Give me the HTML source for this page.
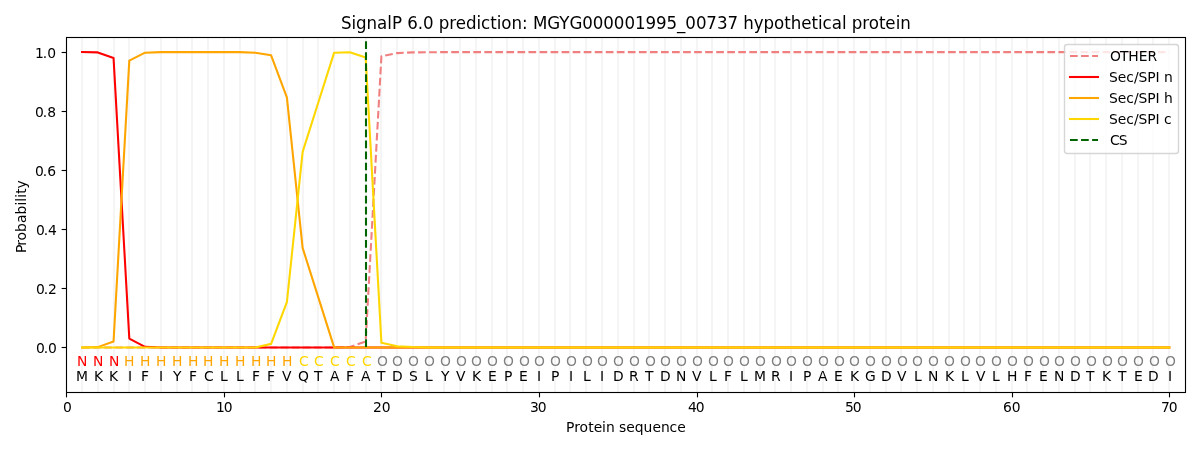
<!DOCTYPE html>
<html lang="en">
<head>
<meta charset="utf-8">
<title>SignalP 6.0 prediction</title>
<style>
html,body{margin:0;padding:0;background:#ffffff;}
body{width:1200px;height:450px;overflow:hidden;}
svg{display:block;}
svg text{font-family:"DejaVu Sans","Liberation Sans",sans-serif;font-size:13.889px;fill:#000000;}
.g{stroke:#f5f5f5;stroke-width:2.083;}
.k{stroke:#000000;stroke-width:1.111;fill:none;}
.d{fill:none;stroke-width:2.083;stroke-linejoin:round;}
.cff0000{fill:#ff0000;}
.cffa500{fill:#ffa500;}
.cffd700{fill:#ffd700;}
.c808080{fill:#808080;}
.big{font-size:16.667px;}
</style>
</head>
<body>
<svg width="1200" height="450" viewBox="0 0 1200 450">
<defs><clipPath id="ax"><rect x="66" y="37" width="1119" height="355"/></clipPath></defs>
<rect x="0" y="0" width="1200" height="450" fill="#ffffff"/>
<g clip-path="url(#ax)">
<g class="g">
<line x1="82" y1="37" x2="82" y2="393"/>
<line x1="98" y1="37" x2="98" y2="393"/>
<line x1="114" y1="37" x2="114" y2="393"/>
<line x1="129" y1="37" x2="129" y2="393"/>
<line x1="145" y1="37" x2="145" y2="393"/>
<line x1="161" y1="37" x2="161" y2="393"/>
<line x1="177" y1="37" x2="177" y2="393"/>
<line x1="192" y1="37" x2="192" y2="393"/>
<line x1="208" y1="37" x2="208" y2="393"/>
<line x1="224" y1="37" x2="224" y2="393"/>
<line x1="240" y1="37" x2="240" y2="393"/>
<line x1="255" y1="37" x2="255" y2="393"/>
<line x1="271" y1="37" x2="271" y2="393"/>
<line x1="287" y1="37" x2="287" y2="393"/>
<line x1="303" y1="37" x2="303" y2="393"/>
<line x1="318" y1="37" x2="318" y2="393"/>
<line x1="334" y1="37" x2="334" y2="393"/>
<line x1="350" y1="37" x2="350" y2="393"/>
<line x1="366" y1="37" x2="366" y2="393"/>
<line x1="381" y1="37" x2="381" y2="393"/>
<line x1="397" y1="37" x2="397" y2="393"/>
<line x1="413" y1="37" x2="413" y2="393"/>
<line x1="429" y1="37" x2="429" y2="393"/>
<line x1="444" y1="37" x2="444" y2="393"/>
<line x1="460" y1="37" x2="460" y2="393"/>
<line x1="476" y1="37" x2="476" y2="393"/>
<line x1="492" y1="37" x2="492" y2="393"/>
<line x1="507" y1="37" x2="507" y2="393"/>
<line x1="523" y1="37" x2="523" y2="393"/>
<line x1="539" y1="37" x2="539" y2="393"/>
<line x1="555" y1="37" x2="555" y2="393"/>
<line x1="570" y1="37" x2="570" y2="393"/>
<line x1="586" y1="37" x2="586" y2="393"/>
<line x1="602" y1="37" x2="602" y2="393"/>
<line x1="618" y1="37" x2="618" y2="393"/>
<line x1="634" y1="37" x2="634" y2="393"/>
<line x1="649" y1="37" x2="649" y2="393"/>
<line x1="665" y1="37" x2="665" y2="393"/>
<line x1="681" y1="37" x2="681" y2="393"/>
<line x1="697" y1="37" x2="697" y2="393"/>
<line x1="712" y1="37" x2="712" y2="393"/>
<line x1="728" y1="37" x2="728" y2="393"/>
<line x1="744" y1="37" x2="744" y2="393"/>
<line x1="760" y1="37" x2="760" y2="393"/>
<line x1="775" y1="37" x2="775" y2="393"/>
<line x1="791" y1="37" x2="791" y2="393"/>
<line x1="807" y1="37" x2="807" y2="393"/>
<line x1="823" y1="37" x2="823" y2="393"/>
<line x1="838" y1="37" x2="838" y2="393"/>
<line x1="854" y1="37" x2="854" y2="393"/>
<line x1="870" y1="37" x2="870" y2="393"/>
<line x1="886" y1="37" x2="886" y2="393"/>
<line x1="901" y1="37" x2="901" y2="393"/>
<line x1="917" y1="37" x2="917" y2="393"/>
<line x1="933" y1="37" x2="933" y2="393"/>
<line x1="949" y1="37" x2="949" y2="393"/>
<line x1="964" y1="37" x2="964" y2="393"/>
<line x1="980" y1="37" x2="980" y2="393"/>
<line x1="996" y1="37" x2="996" y2="393"/>
<line x1="1012" y1="37" x2="1012" y2="393"/>
<line x1="1027" y1="37" x2="1027" y2="393"/>
<line x1="1043" y1="37" x2="1043" y2="393"/>
<line x1="1059" y1="37" x2="1059" y2="393"/>
<line x1="1075" y1="37" x2="1075" y2="393"/>
<line x1="1090" y1="37" x2="1090" y2="393"/>
<line x1="1106" y1="37" x2="1106" y2="393"/>
<line x1="1122" y1="37" x2="1122" y2="393"/>
<line x1="1138" y1="37" x2="1138" y2="393"/>
<line x1="1153" y1="37" x2="1153" y2="393"/>
<line x1="1169" y1="37" x2="1169" y2="393"/>
</g>
<polyline class="d" stroke="#f08080" stroke-dasharray="7.708 3.333" stroke-linecap="butt" points="82.034,347.424 97.791,347.424 113.548,347.424 129.304,347.424 145.061,347.424 160.818,347.424 176.574,347.424 192.331,347.424 208.088,347.424 223.844,347.424 239.601,347.424 255.358,347.424 271.114,347.424 286.871,347.424 302.628,347.424 318.384,347.424 334.141,347.424 349.897,346.981 365.654,341.517 381.411,56.234 397.167,53.104 412.924,52.395 428.681,52.247 444.437,52.1 460.194,52.1 475.951,52.1 491.707,52.1 507.464,52.1 523.221,52.1 538.977,52.1 554.734,52.1 570.491,52.1 586.247,52.1 602.004,52.1 617.761,52.1 633.517,52.1 649.274,52.1 665.031,52.1 680.787,52.1 696.544,52.1 712.3,52.1 728.057,52.1 743.814,52.1 759.57,52.1 775.327,52.1 791.084,52.1 806.84,52.1 822.597,52.1 838.354,52.1 854.11,52.1 869.867,52.1 885.624,52.1 901.38,52.1 917.137,52.1 932.894,52.1 948.65,52.1 964.407,52.1 980.164,52.1 995.92,52.1 1011.677,52.1 1027.433,52.1 1043.19,52.1 1058.947,52.1 1074.703,52.1 1090.46,52.1 1106.217,52.1 1121.973,52.1 1137.73,52.1 1153.487,52.1 1169.243,52.1"/>
<polyline class="d" stroke="#ff0000" stroke-linecap="square" points="82.034,52.1 97.791,52.395 113.548,58.006 129.304,338.564 145.061,346.833 160.818,347.424 176.574,347.424 192.331,347.424 208.088,347.424 223.844,347.424 239.601,347.424 255.358,347.424 271.114,347.424 286.871,347.424 302.628,347.424 318.384,347.424 334.141,347.424 349.897,347.424 365.654,347.424 381.411,347.424 397.167,347.424 412.924,347.424 428.681,347.424 444.437,347.424 460.194,347.424 475.951,347.424 491.707,347.424 507.464,347.424 523.221,347.424 538.977,347.424 554.734,347.424 570.491,347.424 586.247,347.424 602.004,347.424 617.761,347.424 633.517,347.424 649.274,347.424 665.031,347.424 680.787,347.424 696.544,347.424 712.3,347.424 728.057,347.424 743.814,347.424 759.57,347.424 775.327,347.424 791.084,347.424 806.84,347.424 822.597,347.424 838.354,347.424 854.11,347.424 869.867,347.424 885.624,347.424 901.38,347.424 917.137,347.424 932.894,347.424 948.65,347.424 964.407,347.424 980.164,347.424 995.92,347.424 1011.677,347.424 1027.433,347.424 1043.19,347.424 1058.947,347.424 1074.703,347.424 1090.46,347.424 1106.217,347.424 1121.973,347.424 1137.73,347.424 1153.487,347.424 1169.243,347.424"/>
<polyline class="d" stroke="#ffa500" stroke-linecap="square" points="82.034,347.424 97.791,347.128 113.548,341.517 129.304,60.664 145.061,52.69 160.818,52.1 176.574,52.1 192.331,52.1 208.088,52.1 223.844,52.1 239.601,52.1 255.358,52.69 271.114,55.348 286.871,97.284 302.628,247.899 318.384,297.662 334.141,347.424 349.897,347.424 365.654,347.424 381.411,347.424 397.167,347.424 412.924,347.424 428.681,347.424 444.437,347.424 460.194,347.424 475.951,347.424 491.707,347.424 507.464,347.424 523.221,347.424 538.977,347.424 554.734,347.424 570.491,347.424 586.247,347.424 602.004,347.424 617.761,347.424 633.517,347.424 649.274,347.424 665.031,347.424 680.787,347.424 696.544,347.424 712.3,347.424 728.057,347.424 743.814,347.424 759.57,347.424 775.327,347.424 791.084,347.424 806.84,347.424 822.597,347.424 838.354,347.424 854.11,347.424 869.867,347.424 885.624,347.424 901.38,347.424 917.137,347.424 932.894,347.424 948.65,347.424 964.407,347.424 980.164,347.424 995.92,347.424 1011.677,347.424 1027.433,347.424 1043.19,347.424 1058.947,347.424 1074.703,347.424 1090.46,347.424 1106.217,347.424 1121.973,347.424 1137.73,347.424 1153.487,347.424 1169.243,347.424"/>
<polyline class="d" stroke="#ffd700" stroke-linecap="square" points="82.034,347.424 97.791,347.424 113.548,347.424 129.304,347.424 145.061,347.424 160.818,347.424 176.574,347.424 192.331,347.424 208.088,347.424 223.844,347.424 239.601,347.424 255.358,347.424 271.114,343.88 286.871,302.239 302.628,151.919 318.384,102.305 334.141,52.69 349.897,52.247 365.654,57.415 381.411,342.698 397.167,346.242 412.924,347.069 428.681,347.424 444.437,347.424 460.194,347.424 475.951,347.424 491.707,347.424 507.464,347.424 523.221,347.424 538.977,347.424 554.734,347.424 570.491,347.424 586.247,347.424 602.004,347.424 617.761,347.424 633.517,347.424 649.274,347.424 665.031,347.424 680.787,347.424 696.544,347.424 712.3,347.424 728.057,347.424 743.814,347.424 759.57,347.424 775.327,347.424 791.084,347.424 806.84,347.424 822.597,347.424 838.354,347.424 854.11,347.424 869.867,347.424 885.624,347.424 901.38,347.424 917.137,347.424 932.894,347.424 948.65,347.424 964.407,347.424 980.164,347.424 995.92,347.424 1011.677,347.424 1027.433,347.424 1043.19,347.424 1058.947,347.424 1074.703,347.424 1090.46,347.424 1106.217,347.424 1121.973,347.424 1137.73,347.424 1153.487,347.424 1169.243,347.424"/>
<line x1="366" y1="347" x2="366" y2="37" stroke="#006400" stroke-width="2.083" stroke-dasharray="7.708 3.333"/>
</g>
<g class="k">
<rect x="66.5" y="37.5" width="1119" height="355"/>
<line x1="66.5" y1="392.5" x2="66.5" y2="397.361"/>
<line x1="224.5" y1="392.5" x2="224.5" y2="397.361"/>
<line x1="381.5" y1="392.5" x2="381.5" y2="397.361"/>
<line x1="539.5" y1="392.5" x2="539.5" y2="397.361"/>
<line x1="697.5" y1="392.5" x2="697.5" y2="397.361"/>
<line x1="854.5" y1="392.5" x2="854.5" y2="397.361"/>
<line x1="1012.5" y1="392.5" x2="1012.5" y2="397.361"/>
<line x1="1169.5" y1="392.5" x2="1169.5" y2="397.361"/>
<line x1="61.639" y1="347.5" x2="66.5" y2="347.5"/>
<line x1="61.639" y1="288.5" x2="66.5" y2="288.5"/>
<line x1="61.639" y1="229.5" x2="66.5" y2="229.5"/>
<line x1="61.639" y1="170.5" x2="66.5" y2="170.5"/>
<line x1="61.639" y1="111.5" x2="66.5" y2="111.5"/>
<line x1="61.639" y1="52.5" x2="66.5" y2="52.5"/>
</g>
<text x="63" y="412.444">0</text>
<text x="216 223.75" y="412.444">10</text>
<text x="373 381.75" y="412.444">20</text>
<text x="530 537.75" y="412.444">30</text>
<text x="688 695.75" y="412.444">40</text>
<text x="845 852.75" y="412.444">50</text>
<text x="1003 1011.75" y="412.444">60</text>
<text x="1161 1168.75" y="412.444">70</text>
<text x="566 574.25 579.5 588.25 593.75 602 606 614.75 619 626.25 634.75 643.5 652.5 661 669.5 677.25" y="432">Protein sequence</text>
<text x="36 43.75 48" y="352.924">0.0</text>
<text x="36 43.75 48" y="293.859">0.2</text>
<text x="36 43.75 48" y="234.794">0.4</text>
<text x="35 42.75 47.25" y="175.729">0.6</text>
<text x="35 42.75 47.25" y="116.664">0.8</text>
<text x="35 42.75 47.25" y="57.6">1.0</text>
<text transform="translate(26,253.895) rotate(-90)" x="0.911 8.073 13.5 22.001 30.942 39.501 48.394 52.27 56.144 60.033 65.52">Probability</text>
<text class="cff0000" x="77" y="366.19">N</text>
<text x="76" y="380.956">M</text>
<text class="cff0000" x="93" y="366.19">N</text>
<text x="94" y="380.956">K</text>
<text class="cff0000" x="109" y="366.19">N</text>
<text x="109" y="380.956">K</text>
<text class="cffa500" x="124" y="366.19">H</text>
<text x="128" y="380.956">I</text>
<text class="cffa500" x="140" y="366.19">H</text>
<text x="141" y="380.956">F</text>
<text class="cffa500" x="156" y="366.19">H</text>
<text x="159" y="380.956">I</text>
<text class="cffa500" x="172" y="366.19">H</text>
<text x="173" y="380.956">Y</text>
<text class="cffa500" x="188" y="366.19">H</text>
<text x="189" y="380.956">F</text>
<text class="cffa500" x="203" y="366.19">H</text>
<text x="204" y="380.956">C</text>
<text class="cffa500" x="219" y="366.19">H</text>
<text x="220" y="380.956">L</text>
<text class="cffa500" x="235" y="366.19">H</text>
<text x="236" y="380.956">L</text>
<text class="cffa500" x="251" y="366.19">H</text>
<text x="252" y="380.956">F</text>
<text class="cffa500" x="266" y="366.19">H</text>
<text x="267" y="380.956">F</text>
<text class="cffa500" x="282" y="366.19">H</text>
<text x="282" y="380.956">V</text>
<text class="cffd700" x="299" y="366.19">C</text>
<text x="298" y="380.956">Q</text>
<text class="cffd700" x="314" y="366.19">C</text>
<text x="314" y="380.956">T</text>
<text class="cffd700" x="330" y="366.19">C</text>
<text x="330" y="380.956">A</text>
<text class="cffd700" x="346" y="366.19">C</text>
<text x="346" y="380.956">F</text>
<text class="cffd700" x="362" y="366.19">C</text>
<text x="361" y="380.956">A</text>
<text class="c808080" x="377" y="366.19">O</text>
<text x="377" y="380.956">T</text>
<text class="c808080" x="392" y="366.19">O</text>
<text x="392" y="380.956">D</text>
<text class="c808080" x="408" y="366.19">O</text>
<text x="409" y="380.956">S</text>
<text class="c808080" x="424" y="366.19">O</text>
<text x="425" y="380.956">L</text>
<text class="c808080" x="440" y="366.19">O</text>
<text x="441" y="380.956">Y</text>
<text class="c808080" x="456" y="366.19">O</text>
<text x="456" y="380.956">V</text>
<text class="c808080" x="471" y="366.19">O</text>
<text x="472" y="380.956">K</text>
<text class="c808080" x="487" y="366.19">O</text>
<text x="488" y="380.956">E</text>
<text class="c808080" x="503" y="366.19">O</text>
<text x="504" y="380.956">P</text>
<text class="c808080" x="519" y="366.19">O</text>
<text x="519" y="380.956">E</text>
<text class="c808080" x="534" y="366.19">O</text>
<text x="537" y="380.956">I</text>
<text class="c808080" x="550" y="366.19">O</text>
<text x="551" y="380.956">P</text>
<text class="c808080" x="566" y="366.19">O</text>
<text x="569" y="380.956">I</text>
<text class="c808080" x="582" y="366.19">O</text>
<text x="583" y="380.956">L</text>
<text class="c808080" x="597" y="366.19">O</text>
<text x="600" y="380.956">I</text>
<text class="c808080" x="613" y="366.19">O</text>
<text x="613" y="380.956">D</text>
<text class="c808080" x="629" y="366.19">O</text>
<text x="629" y="380.956">R</text>
<text class="c808080" x="645" y="366.19">O</text>
<text x="645" y="380.956">T</text>
<text class="c808080" x="660" y="366.19">O</text>
<text x="660" y="380.956">D</text>
<text class="c808080" x="676" y="366.19">O</text>
<text x="676" y="380.956">N</text>
<text class="c808080" x="692" y="366.19">O</text>
<text x="692" y="380.956">V</text>
<text class="c808080" x="708" y="366.19">O</text>
<text x="709" y="380.956">L</text>
<text class="c808080" x="723" y="366.19">O</text>
<text x="724" y="380.956">F</text>
<text class="c808080" x="739" y="366.19">O</text>
<text x="740" y="380.956">L</text>
<text class="c808080" x="755" y="366.19">O</text>
<text x="754" y="380.956">M</text>
<text class="c808080" x="771" y="366.19">O</text>
<text x="771" y="380.956">R</text>
<text class="c808080" x="786" y="366.19">O</text>
<text x="789" y="380.956">I</text>
<text class="c808080" x="802" y="366.19">O</text>
<text x="803" y="380.956">P</text>
<text class="c808080" x="818" y="366.19">O</text>
<text x="818" y="380.956">A</text>
<text class="c808080" x="834" y="366.19">O</text>
<text x="834" y="380.956">E</text>
<text class="c808080" x="849" y="366.19">O</text>
<text x="850" y="380.956">K</text>
<text class="c808080" x="865" y="366.19">O</text>
<text x="865" y="380.956">G</text>
<text class="c808080" x="881" y="366.19">O</text>
<text x="881" y="380.956">D</text>
<text class="c808080" x="897" y="366.19">O</text>
<text x="897" y="380.956">V</text>
<text class="c808080" x="912" y="366.19">O</text>
<text x="914" y="380.956">L</text>
<text class="c808080" x="928" y="366.19">O</text>
<text x="928" y="380.956">N</text>
<text class="c808080" x="944" y="366.19">O</text>
<text x="945" y="380.956">K</text>
<text class="c808080" x="960" y="366.19">O</text>
<text x="961" y="380.956">L</text>
<text class="c808080" x="975" y="366.19">O</text>
<text x="976" y="380.956">V</text>
<text class="c808080" x="991" y="366.19">O</text>
<text x="992" y="380.956">L</text>
<text class="c808080" x="1007" y="366.19">O</text>
<text x="1007" y="380.956">H</text>
<text class="c808080" x="1023" y="366.19">O</text>
<text x="1024" y="380.956">F</text>
<text class="c808080" x="1039" y="366.19">O</text>
<text x="1039" y="380.956">E</text>
<text class="c808080" x="1054" y="366.19">O</text>
<text x="1054" y="380.956">N</text>
<text class="c808080" x="1070" y="366.19">O</text>
<text x="1070" y="380.956">D</text>
<text class="c808080" x="1086" y="366.19">O</text>
<text x="1086" y="380.956">T</text>
<text class="c808080" x="1102" y="366.19">O</text>
<text x="1102" y="380.956">K</text>
<text class="c808080" x="1117" y="366.19">O</text>
<text x="1118" y="380.956">T</text>
<text class="c808080" x="1133" y="366.19">O</text>
<text x="1134" y="380.956">E</text>
<text class="c808080" x="1149" y="366.19">O</text>
<text x="1148" y="380.956">D</text>
<text class="c808080" x="1165" y="366.19">O</text>
<text x="1168" y="380.956">I</text>
<text class="big" transform="translate(0,29) scale(1,1.07)" x="341 351.5 356 366.5 377 387.25 392 402 407.25 417.75 423 433.5 438.75 449.25 455.75 466 476.5 481 490.25 496.75 501.25 511.5 522 527.75 533 547.25 559.25 569.5 582.25 592.75 603.25 613.75 624.5 635 645.5 656 666.5 677 685.25 696 706.25 717 727.5 738 743.25 753.75 763.5 774 784.25 790.75 801.25 811.5 818 822.5 831.75 842 846.5 851.75 862.25 868.75 879 885.25 895.75 900.25" y="0">SignalP 6.0 prediction: MGYG000001995_00737 hypothetical protein</text>
<rect x="1064.5" y="44.5" width="114" height="109" rx="2.778" ry="2.778" fill="#ffffff" fill-opacity="0.8" stroke="#cccccc" stroke-opacity="0.8" stroke-width="1.389"/>
<line x1="1070" y1="56" x2="1098" y2="56" stroke="#f08080" stroke-width="2.083" stroke-dasharray="7.708 3.333"/>
<text x="1110 1120 1128.25 1138.75 1147.5" y="60.833">OTHER</text>
<line x1="1070" y1="77" x2="1098" y2="77" stroke="#ff0000" stroke-width="2.083" stroke-linecap="square"/>
<text x="1109 1117.75 1126.25 1134 1138.5 1147.25 1155.5 1159.75 1164" y="81.778">Sec/SPI n</text>
<line x1="1070" y1="98" x2="1098" y2="98" stroke="#ffa500" stroke-width="2.083" stroke-linecap="square"/>
<text x="1109 1117.75 1126.25 1134 1138.5 1147.25 1155.5 1159.75 1164" y="102.722">Sec/SPI h</text>
<line x1="1070" y1="119" x2="1098" y2="119" stroke="#ffd700" stroke-width="2.083" stroke-linecap="square"/>
<text x="1109 1117.75 1126.25 1134 1138.5 1147.25 1155.5 1159.5 1164" y="123.667">Sec/SPI c</text>
<line x1="1070" y1="140" x2="1098" y2="140" stroke="#006400" stroke-width="2.083" stroke-dasharray="7.708 3.333"/>
<text x="1110 1118.75" y="144.611">CS</text>
</svg>
</body>
</html>
